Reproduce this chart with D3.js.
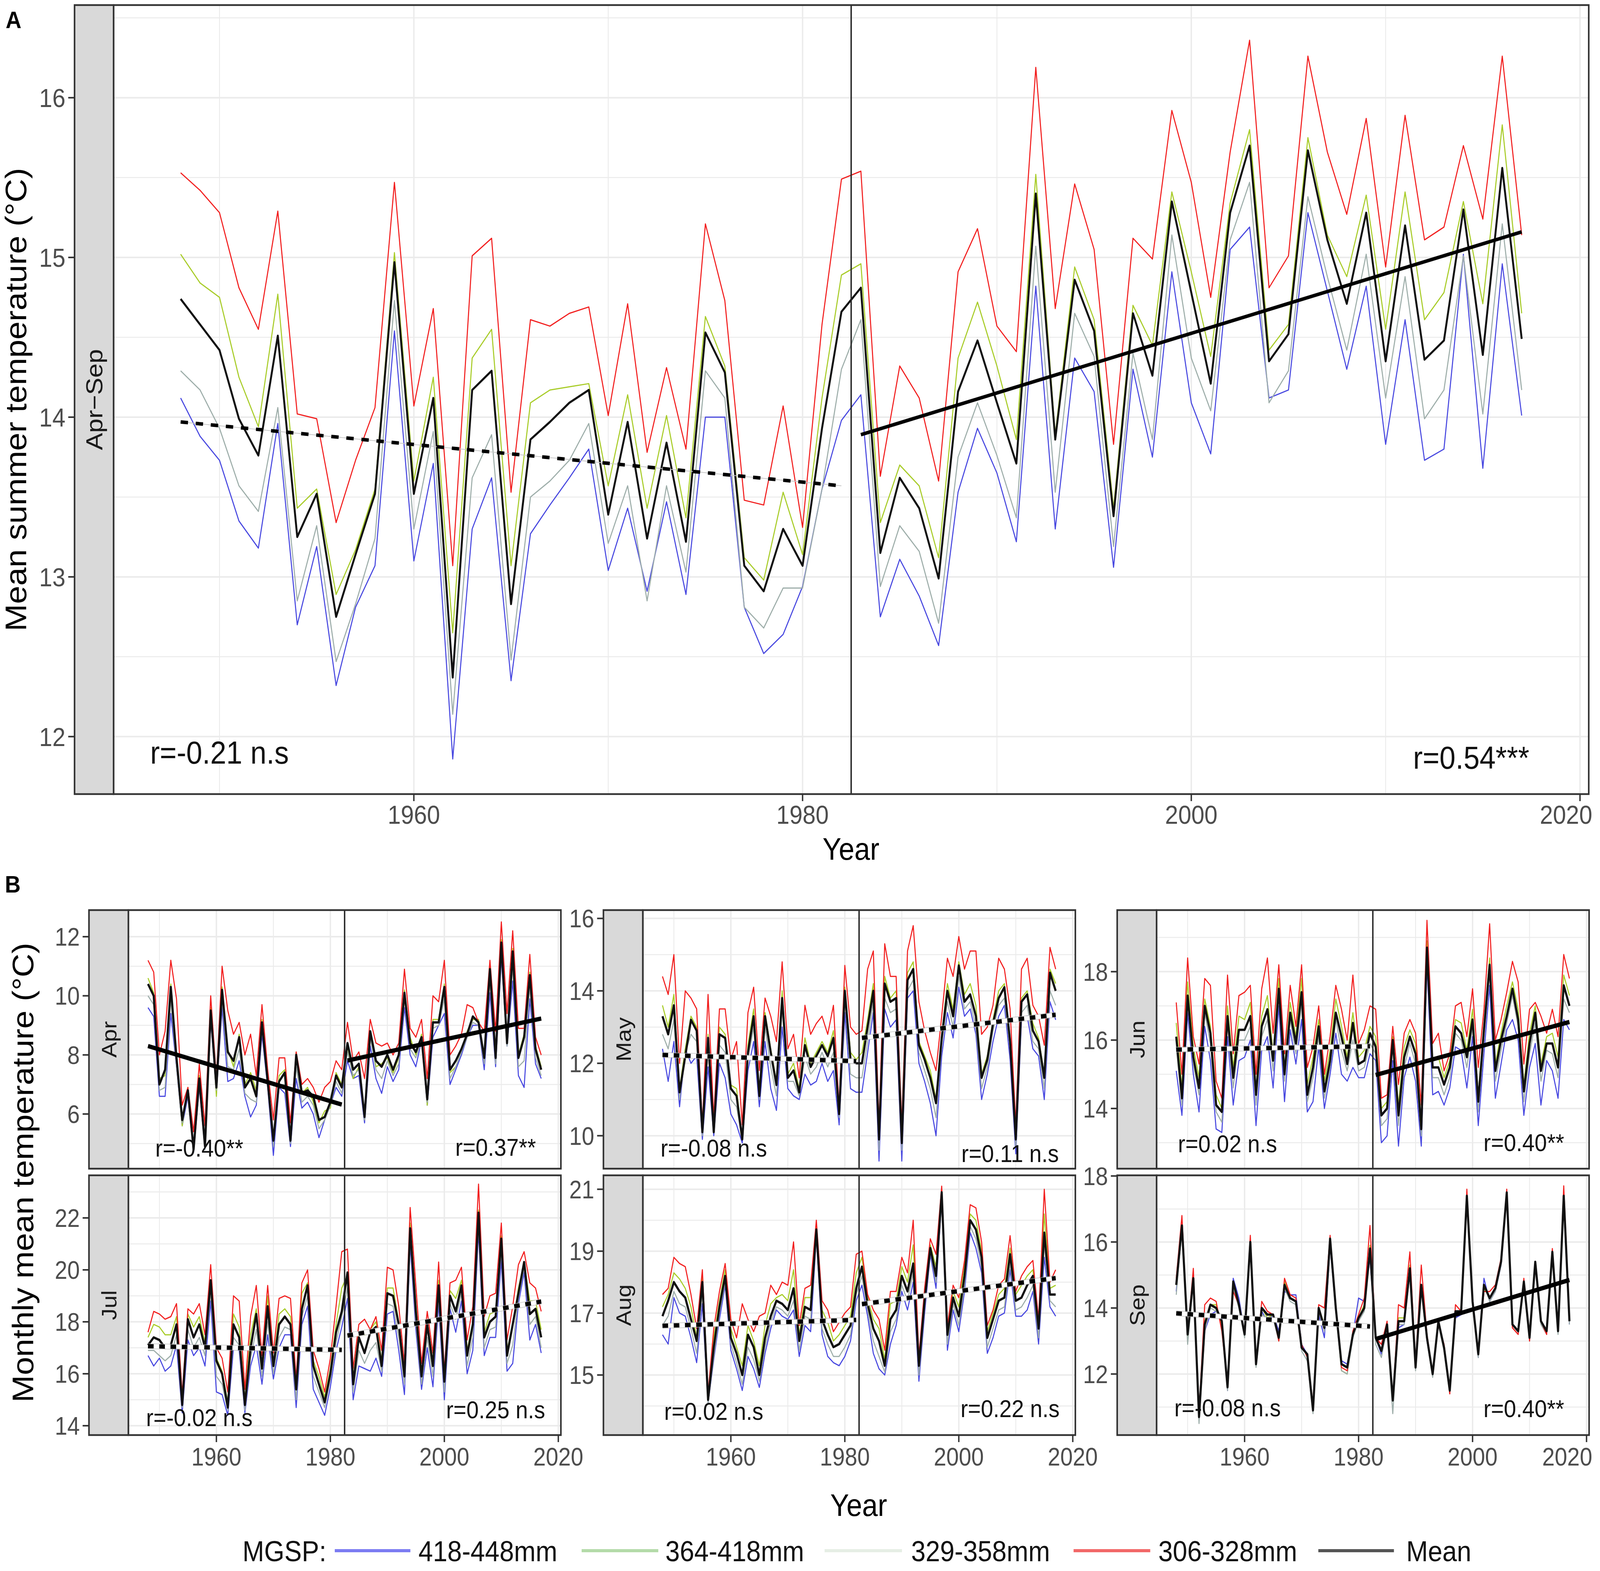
<!DOCTYPE html>
<html><head><meta charset="utf-8">
<script src="https://cdn.jsdelivr.net/npm/d3@7/dist/d3.min.js"></script>
<style>html,body{margin:0;padding:0;background:#fff;overflow:hidden;width:100%;height:100%}
#chart{display:block;width:100vw;height:100vh}</style>
</head><body>
<svg id="chart" viewBox="0 0 4550 4022" preserveAspectRatio="none" xmlns="http://www.w3.org/2000/svg"></svg>
<script>
// ---------------- DATA ----------------
const years = d3.range(1948, 2018);
const breakYear = 1982.5;
const periodPre = [1948, 1982];
const periodPost = [1983, 2017];
const seriesNames = ["418-448mm", "364-418mm", "329-358mm", "306-328mm", "Mean"];
const legendTitle = "MGSP:";
const xTicks = [1960, 1980, 2000, 2020];
const xMinor = [1950, 1970, 1990, 2010];

// Panel A: Apr-Sep mean summer temperature
const aBlue = [14.12,13.88,13.73,13.35,13.18,13.96,12.70,13.19,12.32,12.81,13.07,14.54,13.10,13.71,11.86,13.30,13.62,12.35,13.27,13.45,13.62,13.80,13.04,13.43,12.91,13.47,12.89,14.00,14.00,12.81,12.52,12.64,12.94,13.55,13.98,
 14.14,12.75,13.11,12.88,12.57,13.53,13.93,13.65,13.22,14.82,13.30,14.37,14.16,13.06,14.30,13.75,14.91,14.09,13.77,15.05,15.19,14.12,14.17,15.28,14.79,14.30,14.82,13.83,14.61,13.73,13.80,15.02,13.68,14.96,14.01];
const aGreen = [15.02,14.84,14.75,14.25,13.94,14.77,13.43,13.55,12.89,13.17,13.55,15.03,13.60,14.25,12.65,14.37,14.55,13.07,14.09,14.17,14.19,14.21,13.57,14.14,13.43,14.01,13.37,14.63,14.32,13.12,12.98,13.53,13.14,14.12,14.89,
 14.96,13.34,13.70,13.57,13.12,14.37,14.72,14.32,13.86,15.52,13.89,14.94,14.61,13.43,14.70,14.45,15.41,14.91,14.38,15.34,15.80,14.42,14.58,15.75,15.14,14.88,15.39,14.55,15.41,14.61,14.78,15.35,14.71,15.83,14.65];
const aGray = [14.29,14.17,13.93,13.57,13.41,14.06,12.85,13.32,12.47,12.83,13.24,14.73,13.30,13.91,12.14,13.62,13.89,12.48,13.50,13.60,13.73,13.96,13.21,13.57,12.85,13.57,13.03,14.29,14.12,12.81,12.68,12.93,12.93,13.55,14.30,
 14.61,12.94,13.32,13.16,12.71,13.75,14.09,13.76,13.37,15.07,13.53,14.65,14.38,13.19,14.40,13.86,15.14,14.37,14.04,15.11,15.47,14.09,14.29,15.38,14.88,14.42,15.02,14.12,14.88,13.99,14.17,15.01,14.02,15.21,14.17];
const aRed = [15.53,15.42,15.28,14.81,14.55,15.29,14.02,13.99,13.34,13.73,14.06,15.47,14.07,14.68,13.07,15.01,15.12,13.53,14.61,14.57,14.65,14.69,14.01,14.71,13.78,14.31,13.80,15.21,14.73,13.48,13.45,14.07,13.31,14.58,15.49,
 15.54,13.63,14.32,14.12,13.60,14.91,15.18,14.57,14.41,16.19,14.68,15.46,15.05,13.83,15.12,14.99,15.92,15.47,14.75,15.66,16.36,14.81,15.01,16.26,15.66,15.27,15.87,14.94,15.89,15.11,15.19,15.70,15.24,16.26,15.14];
const aMean = [14.74,14.58,14.42,13.99,13.76,14.51,13.25,13.52,12.75,13.14,13.52,14.97,13.52,14.12,12.37,14.17,14.29,12.83,13.86,13.97,14.09,14.17,13.39,13.97,13.24,13.84,13.22,14.53,14.28,13.07,12.91,13.30,13.07,13.93,14.66,
 14.81,13.15,13.62,13.43,12.99,14.16,14.48,14.09,13.71,15.40,13.86,14.86,14.54,13.38,14.65,14.26,15.35,14.78,14.21,15.28,15.70,14.35,14.52,15.67,15.11,14.71,15.28,14.35,15.20,14.36,14.48,15.30,14.39,15.56,14.49];
const aDomain = [11.64, 16.58];
const aTicks = [12, 13, 14, 15, 16];
const aMinor = [12.5, 13.5, 14.5, 15.5, 16.5];
const aTrend = [[13.97, 13.57], [13.89, 15.16]];
const aTrendType = ["dashed", "solid"];
const aLabels = ["r=-0.21 n.s", "r=0.54***"];
const aStrip = "Apr\u2212Sep";

// Panel B: monthly
const months = ["Apr", "May", "Jun", "Jul", "Aug", "Sep"];
const aprBlue = [9.6,9.3,6.6,6.6,9.4,7.6,5.6,6.6,4.7,6.9,4.8,9.2,6.7,9.6,7.1,7.2,7.8,6.6,5.9,6.3,8.7,6.9,4.6,6.9,6.7,4.9,7.2,6.2,6.4,6.0,5.2,5.8,6.3,6.9,6.6,
 7.8,7.2,7.3,5.7,8.3,7.2,6.7,7.6,7.1,7.5,9.6,8.0,7.6,8.5,6.3,8.6,9.0,9.4,7.0,7.5,8.0,8.6,9.0,9.0,7.5,10.1,7.6,11.3,8.3,10.5,7.3,6.9,9.9,7.7,7.2];
const aprGreen = [10.6,10.1,7.2,7.3,10.4,7.7,5.6,6.9,4.9,7.3,5.0,9.6,6.6,10.3,8.2,7.6,8.7,7.0,7.4,6.8,9.2,7.2,5.2,7.3,7.5,5.2,8.1,6.7,6.9,6.4,5.7,6.1,6.2,7.4,7.0,
 8.3,7.2,7.6,5.8,8.8,7.6,7.7,7.9,7.4,7.9,10.2,8.6,8.0,8.7,6.3,9.2,9.2,10.4,7.4,7.6,8.1,8.8,9.2,9.2,7.8,11.0,7.8,11.9,8.4,11.6,8.0,8.7,10.8,8.3,7.6];
const aprGray = [10.0,9.7,6.8,6.9,9.9,7.6,5.7,6.7,4.7,7.0,4.8,9.3,6.8,9.9,7.6,7.5,8.2,6.7,6.5,6.4,8.9,7.0,4.9,7.0,7.0,5.0,7.6,6.4,6.6,6.3,5.5,5.8,6.3,7.1,6.7,
 8.1,7.3,7.5,5.8,8.6,7.5,7.2,7.8,7.3,7.7,9.9,8.2,7.9,8.5,6.4,8.9,9.0,9.9,7.2,7.6,8.1,8.6,9.1,9.0,7.7,10.5,7.7,11.5,8.3,11.0,7.6,7.8,10.3,7.9,7.3];
const aprRed = [11.2,10.8,8.0,8.8,11.2,9.9,6.3,6.9,5.4,7.7,5.6,10.0,7.2,11.0,9.5,8.7,9.1,8.0,8.7,7.3,9.7,7.5,5.8,7.9,7.9,5.7,8.1,7.0,7.2,6.9,6.4,6.9,7.1,7.8,7.5,
 9.1,7.8,8.1,7.2,9.2,8.4,8.3,8.4,8.0,8.4,10.9,8.9,8.6,9.2,7.2,10.0,9.8,11.2,8.0,8.3,8.7,9.7,9.6,9.1,8.8,11.2,8.8,12.5,9.4,12.2,8.9,8.9,11.4,8.6,8.0];
const aprMean = [10.4,10.0,7.0,7.5,10.3,7.9,5.8,6.8,4.8,7.2,4.9,9.5,6.9,10.2,8.1,7.8,8.6,6.9,7.2,6.6,9.1,7.1,5.1,7.1,7.4,5.1,8.0,6.7,6.8,6.6,5.8,5.9,6.4,7.3,6.9,
 8.4,7.5,7.7,5.9,8.8,7.8,7.6,8.0,7.5,8.0,10.1,8.4,8.1,8.6,6.5,9.1,9.1,10.3,7.5,7.8,8.2,8.7,9.3,9.1,7.9,10.9,7.9,11.8,8.4,11.5,7.9,8.6,10.7,8.2,7.5];

const mayBlue = [12.4,11.5,12.6,10.8,12.4,12.0,12.2,9.9,11.9,10.0,12.0,11.6,10.6,10.3,9.8,11.8,12.6,10.8,12.6,11.3,10.7,13.0,11.3,11.1,11.0,11.7,11.4,11.5,12.0,11.5,11.8,10.3,13.4,11.3,11.2,
 11.2,12.3,13.4,9.3,13.5,13.0,13.2,9.3,13.8,14.0,12.0,11.5,10.9,10.0,12.2,13.4,12.7,14.1,13.3,13.5,12.8,11.0,11.7,12.6,13.3,13.6,12.1,9.5,13.2,13.3,12.4,12.2,11.0,13.7,13.2];
const mayGreen = [13.6,13.0,13.9,11.3,12.4,13.3,13.0,10.1,12.8,10.2,13.0,12.8,11.4,11.3,9.9,12.5,13.5,11.2,13.4,12.4,11.5,14.0,11.7,12.0,11.3,12.7,12.0,12.3,12.6,12.3,12.9,10.7,14.1,12.3,12.1,
 12.3,13.2,14.2,9.9,14.4,13.8,14.0,9.9,14.5,14.8,12.6,12.2,11.8,11.0,12.8,14.2,13.5,14.8,13.9,14.2,13.6,11.7,12.2,13.2,14.0,14.2,12.7,9.9,13.8,14.0,13.1,12.7,11.7,14.6,14.2];
const mayGray = [12.8,12.4,13.2,11.0,12.3,12.8,12.6,10.0,12.4,10.1,12.5,12.3,11.0,10.8,9.9,12.1,13.0,11.0,13.0,11.9,11.1,13.5,11.5,11.5,11.1,12.2,11.7,11.9,12.3,11.9,12.3,10.5,13.8,11.7,11.6,
 11.6,12.6,13.7,9.6,13.8,13.4,13.5,9.6,14.0,14.3,12.3,11.8,11.3,10.5,12.5,13.7,13.0,14.4,13.5,13.7,13.0,11.3,11.9,12.9,13.6,13.8,12.4,9.7,13.4,13.6,12.6,12.4,11.3,14.0,13.6];
const mayRed = [14.4,13.9,15.0,12.0,14.0,13.8,13.5,10.3,13.9,10.5,13.5,13.5,12.1,12.6,10.3,13.4,14.1,11.8,13.8,13.3,12.6,14.8,12.4,12.8,11.6,13.6,12.8,13.1,13.3,12.8,13.6,10.8,14.7,13.0,12.8,
 12.9,14.6,15.1,10.3,15.3,14.4,14.4,10.3,15.1,15.8,13.7,12.9,12.3,11.8,13.3,14.9,14.4,15.5,14.6,15.1,15.1,12.8,13.0,13.6,14.9,14.6,13.5,10.3,14.6,14.9,13.6,13.3,12.5,15.2,14.6];
const mayMean = [13.3,12.8,13.6,11.2,12.2,13.2,12.9,10.1,12.7,10.1,12.8,12.7,11.3,11.1,9.9,12.3,13.3,11.1,13.3,12.3,11.4,13.8,11.6,11.8,11.2,12.5,11.9,12.2,12.5,12.2,12.7,10.6,14.0,12.1,12.0,
 12.0,13.0,14.0,9.9,14.2,13.7,13.8,9.8,14.3,14.6,12.5,12.1,11.6,10.9,12.7,14.0,13.3,14.7,13.7,13.9,13.3,11.6,12.1,13.1,13.8,14.1,12.6,9.9,13.7,13.9,12.9,12.6,11.6,14.5,14.0];

const junBlue = [15.1,13.8,16.8,15.0,13.9,16.4,15.4,13.4,13.3,16.1,14.1,15.4,15.5,16.0,13.5,15.7,16.1,14.6,17.0,14.2,16.3,15.3,16.6,13.9,14.2,15.8,14.0,15.0,16.2,15.0,14.8,15.2,14.9,14.9,15.6,
 15.4,13.0,13.2,15.4,12.9,14.9,15.5,14.8,12.9,18.2,14.4,14.5,14.1,14.6,15.8,15.7,14.6,16.1,13.5,15.6,17.6,14.3,15.3,16.3,16.6,16.0,13.8,15.2,15.9,14.1,15.4,15.1,14.3,16.6,16.3];
const junGreen = [16.5,14.6,17.7,15.8,14.9,17.2,16.4,14.4,14.0,17.0,15.2,16.7,16.6,17.1,14.6,16.7,17.3,15.6,17.8,15.2,17.1,16.1,17.8,14.7,15.5,16.6,14.8,15.7,17.2,16.4,15.5,16.8,15.5,15.7,16.4,
 16.1,14.0,14.2,16.1,14.1,15.8,16.3,15.9,13.6,18.9,15.4,15.5,14.9,15.4,16.6,16.5,15.7,16.9,14.4,16.5,18.4,15.3,16.2,17.0,17.7,16.9,14.7,16.2,17.0,15.3,16.1,16.2,15.5,17.9,17.3];
const junGray = [15.8,14.1,17.1,15.3,14.4,16.8,15.9,13.9,13.6,16.5,14.6,16.0,16.0,16.4,14.1,16.1,16.6,15.1,17.3,14.8,16.6,15.6,17.1,14.2,14.9,16.1,14.3,15.2,16.6,15.7,15.1,16.0,15.1,15.2,15.9,
 15.6,13.5,13.7,15.8,13.5,15.2,15.9,15.3,13.2,18.5,14.9,14.9,14.4,14.9,16.2,16.0,15.2,16.4,13.9,16.1,18.0,14.8,15.7,16.5,17.3,16.4,14.2,15.6,16.5,14.8,15.7,15.6,14.9,17.2,16.8];
const junRed = [17.1,15.0,18.4,16.1,15.3,17.8,17.6,14.8,14.3,17.9,15.6,17.3,17.4,17.6,15.0,17.5,18.4,16.2,18.2,15.6,17.6,16.4,18.2,15.2,15.8,17.0,15.0,16.1,17.6,16.9,16.0,17.9,15.9,16.3,17.0,
 16.9,14.3,14.4,16.4,14.7,16.2,16.6,16.2,14.1,19.5,15.9,16.2,15.1,15.6,17.0,17.1,16.1,17.5,15.2,16.9,19.4,16.0,16.6,17.4,18.3,17.7,15.3,16.9,17.1,16.7,16.2,16.9,16.1,18.5,17.8];
const junMean = [16.1,14.3,17.3,15.5,14.6,17.0,16.2,14.1,13.9,16.7,14.9,16.3,16.3,16.7,14.4,16.4,16.9,15.4,17.5,15.0,16.8,15.9,17.4,14.4,15.2,16.4,14.5,15.4,16.8,16.1,15.3,16.5,15.3,15.4,16.2,
 15.8,13.8,14.0,16.0,13.8,15.5,16.1,15.6,13.4,18.7,15.2,15.2,14.7,15.2,16.4,16.2,15.5,16.6,14.2,16.3,18.2,15.1,16.0,16.7,17.5,16.6,14.5,15.9,16.8,15.1,15.9,15.9,15.2,17.6,17.0];

const julBlue = [16.7,16.3,16.6,16.1,16.3,17.1,14.5,17.3,16.7,17.0,16.3,18.8,15.3,15.2,14.4,17.0,16.9,14.5,16.3,17.1,15.6,17.5,15.8,17.0,17.5,17.5,14.7,17.9,18.6,15.4,14.9,14.4,15.5,16.9,17.8,
 18.9,15.0,16.3,16.2,16.1,16.6,15.9,18.3,18.4,16.9,15.2,21.0,17.7,15.4,17.0,15.5,18.7,15.0,18.5,17.6,18.8,16.0,16.9,21.5,16.7,17.4,17.4,20.4,16.1,16.4,18.7,19.9,17.3,17.9,16.8];
const julGreen = [17.4,17.9,17.8,17.5,17.5,18.2,14.9,18.3,17.8,18.2,17.2,19.6,16.6,16.1,14.9,18.3,17.8,15.0,17.5,18.5,16.4,19.0,16.4,18.3,18.5,18.2,15.5,19.1,19.5,16.5,15.9,15.1,16.2,17.9,19.3,
 19.8,15.8,17.6,17.5,17.7,18.0,16.5,19.3,19.3,18.0,16.1,21.8,18.7,16.0,18.0,16.5,19.6,15.8,19.2,18.9,19.6,16.9,18.0,22.3,17.6,18.3,18.4,21.3,16.9,17.9,19.3,20.3,18.8,18.8,17.7];
const julGray = [16.9,16.9,16.7,16.5,16.7,17.5,14.7,17.7,17.0,17.4,16.7,19.2,15.9,15.6,14.6,17.4,17.1,14.6,16.6,17.7,15.9,18.0,16.0,17.4,17.8,17.7,15.0,18.2,19.0,15.9,15.3,14.7,15.8,17.2,18.2,
 19.3,15.3,16.9,16.4,16.9,17.2,16.1,18.7,18.6,17.4,15.6,21.3,18.0,15.6,17.4,15.9,19.0,15.3,18.7,18.1,19.1,16.3,17.4,21.8,17.0,17.7,17.8,20.8,16.4,17.1,18.9,20.1,17.9,18.2,17.0];
const julRed = [17.6,18.4,18.3,18.1,18.2,18.7,15.2,18.5,18.3,18.7,17.5,20.2,17.0,16.6,15.3,19.0,18.8,15.4,18.2,19.4,16.7,19.4,16.8,18.9,19.0,18.9,15.8,19.5,20.0,16.9,16.2,15.3,16.6,18.6,20.7,
 20.8,16.2,17.9,18.1,17.7,18.2,16.9,20.1,20.0,18.6,16.4,22.4,19.4,16.4,18.4,16.8,20.3,16.1,19.5,19.6,20.1,17.3,18.6,23.3,18.2,19.0,19.1,21.8,17.3,18.6,20.2,20.7,19.5,19.3,18.4];
const julMean = [17.1,17.4,17.3,17.0,17.1,17.9,14.8,18.1,17.4,17.9,17.0,19.6,16.5,16.0,14.7,17.9,17.4,14.8,17.0,18.3,16.2,18.6,16.3,17.9,18.2,17.9,15.4,18.5,19.4,16.3,15.6,14.9,16.0,17.6,18.4,
 19.9,15.6,17.4,16.8,17.6,17.8,16.3,19.1,19.0,17.9,15.9,21.6,18.4,15.9,17.9,16.3,19.4,15.7,19.0,18.4,19.4,16.7,17.9,22.2,17.4,18.0,18.2,21.2,16.7,17.9,19.1,20.3,18.3,18.5,17.4];

const augBlue = [16.3,16.0,17.5,17.0,16.9,16.2,15.4,17.3,14.1,15.5,16.8,17.9,15.8,15.2,14.5,15.6,15.2,14.6,15.7,16.5,17.1,16.9,16.8,17.1,15.6,16.6,16.4,19.5,16.3,15.6,15.4,15.3,15.6,16.1,17.4,
 17.9,16.9,15.7,15.2,15.0,16.0,16.6,17.7,17.1,18.0,14.8,17.0,18.9,17.8,20.7,15.8,17.1,16.4,17.7,19.6,19.1,18.3,15.7,16.2,16.9,17.0,18.4,16.9,16.9,17.1,17.7,16.0,18.8,17.2,16.9];
const augGreen = [17.2,17.6,18.3,18.1,17.8,17.2,16.2,18.2,14.3,16.2,17.4,18.4,16.5,15.9,15.3,16.6,16.1,15.3,16.6,17.3,17.5,17.6,17.4,18.4,16.3,17.5,17.5,19.8,17.1,16.7,16.1,16.3,16.6,16.9,18.3,
 18.8,17.5,16.8,16.5,15.5,17.3,17.4,18.5,18.0,19.2,15.4,17.6,19.2,18.5,21.0,16.4,17.7,17.2,18.5,20.2,20.0,19.0,16.4,17.0,17.6,17.8,19.1,17.6,17.9,18.2,18.4,16.6,20.2,17.8,17.9];
const augGray = [16.6,16.9,17.7,17.3,17.2,16.5,15.7,17.7,14.1,15.6,17.0,18.0,16.0,15.4,14.7,15.9,15.5,14.8,15.9,16.7,17.2,17.1,16.9,17.4,15.8,16.9,16.8,19.6,16.5,16.0,15.6,15.6,15.9,16.3,17.6,
 18.2,17.1,16.1,15.6,15.1,16.4,16.8,17.9,17.4,18.3,15.0,17.2,19.0,18.0,20.8,16.0,17.3,16.6,17.9,19.8,19.4,18.5,15.9,16.5,17.1,17.2,18.6,17.1,17.2,17.5,17.9,16.2,19.2,17.4,17.2];
const augRed = [17.6,17.8,18.8,18.6,18.5,17.6,16.5,18.4,14.4,16.5,17.7,18.6,16.8,16.2,17.3,16.8,16.4,16.9,17.0,17.9,17.6,18.0,17.9,19.3,16.6,17.8,17.9,20.0,17.4,17.1,16.4,16.7,17.0,17.2,18.9,
 19.0,17.6,17.1,16.8,15.8,17.7,17.7,18.8,18.3,20.0,15.6,17.8,19.4,18.9,21.1,16.6,17.9,17.5,18.7,20.5,20.4,19.3,16.6,17.1,17.9,18.1,19.5,17.7,18.2,18.5,18.7,16.8,21.0,18.0,18.4];
const augMean = [16.9,17.4,18.0,17.7,17.5,16.8,16.1,18.0,14.2,15.9,17.2,18.2,16.2,15.7,15.0,16.3,15.9,15.0,16.2,16.9,17.4,17.3,17.1,17.8,16.1,17.2,17.1,19.7,16.8,16.3,15.9,16.0,16.3,16.6,17.8,
 18.5,17.3,16.5,16.1,15.3,16.8,17.1,18.2,17.7,18.6,15.3,17.4,19.1,18.2,20.9,16.3,17.5,16.9,18.2,20.0,19.7,18.8,16.2,16.8,17.4,17.5,18.9,17.4,17.5,17.9,18.2,16.5,19.6,17.6,17.6];

const sepBlue = [14.5,16.4,13.1,14.9,10.6,13.3,13.8,13.9,13.7,11.5,14.9,14.3,13.2,15.9,12.3,13.9,13.6,13.8,13.3,14.5,14.4,14.4,12.9,12.6,10.9,13.8,13.1,15.9,13.9,12.4,12.3,13.2,14.3,14.2,15.5,
 13.1,12.6,13.4,11.2,13.4,13.5,15.1,12.2,14.6,13.0,12.0,13.6,12.8,11.5,13.7,13.8,17.3,14.2,12.5,14.9,14.2,14.5,15.3,17.4,13.5,13.3,14.7,13.1,15.3,13.6,13.3,15.6,13.3,17.2,13.5];
const sepGreen = [14.7,16.5,13.1,15.0,10.7,13.6,14.1,14.1,13.5,11.6,14.7,14.1,13.2,16.0,12.3,14.0,13.7,13.8,13.0,14.8,14.3,14.2,12.8,12.6,10.9,14.0,13.5,16.0,14.0,12.1,12.0,13.2,13.7,14.1,15.9,
 13.1,12.7,13.5,11.2,13.7,13.7,15.3,12.2,14.7,13.1,12.0,13.6,12.8,11.5,13.9,13.9,17.4,14.2,12.6,14.6,14.3,14.6,15.4,17.5,13.5,13.3,14.8,13.1,15.3,13.6,13.3,15.7,13.3,17.4,13.6];
const sepGray = [14.4,16.4,12.9,14.8,10.5,13.3,14.0,13.9,13.6,11.5,14.6,14.0,13.1,15.9,12.2,13.8,13.7,13.7,13.0,14.6,14.2,14.1,12.7,12.4,10.8,13.9,13.3,16.0,13.9,12.1,12.0,13.1,13.6,13.9,15.7,
 12.9,12.5,13.4,10.8,13.5,13.5,15.1,12.1,14.6,13.0,11.9,13.5,12.7,11.4,13.8,13.8,17.3,14.1,12.5,14.7,14.2,14.5,15.3,17.4,13.4,13.2,14.7,13.0,15.3,13.5,13.2,15.6,13.2,17.3,13.5];
const sepRed = [14.9,16.8,13.2,15.2,10.8,14.1,14.3,14.2,13.3,11.7,14.5,14.1,13.2,16.2,12.3,14.2,13.9,13.8,13.0,14.9,14.4,14.3,12.9,12.5,11.1,14.1,14.0,16.2,14.0,12.2,12.1,13.3,13.8,14.3,16.5,
 13.1,12.9,13.6,11.2,14.1,14.0,15.7,12.3,15.3,13.2,12.0,13.5,12.9,11.4,14.1,13.9,17.6,14.2,12.6,14.5,14.5,14.7,15.5,17.6,13.4,13.2,14.9,13.0,15.4,13.6,13.2,15.8,13.4,17.7,13.7];
const sepMean = [14.7,16.5,13.2,14.9,10.7,13.5,14.1,14.0,13.6,11.6,14.8,14.1,13.2,16.0,12.3,14.0,13.8,13.8,13.1,14.7,14.3,14.2,12.8,12.6,10.9,14.0,13.4,16.1,14.0,12.3,12.2,13.2,13.7,14.0,15.8,
 13.1,12.7,13.5,11.2,13.6,13.6,15.2,12.2,14.7,13.1,12.0,13.6,12.8,11.5,13.9,13.9,17.4,14.2,12.6,14.7,14.3,14.6,15.4,17.5,13.5,13.3,14.8,13.1,15.4,13.6,13.3,15.7,13.3,17.4,13.6];

const monthDomains = [[4.15, 12.9], [9.09, 16.23], [12.24, 19.80], [13.64, 23.64], [13.06, 21.45], [10.15, 18.02]];
const monthTicks = [[6, 8, 10, 12], [10, 12, 14, 16], [14, 16, 18], [14, 16, 18, 20, 22], [15, 17, 19, 21], [12, 14, 16, 18]];
const monthMinor = [[5, 7, 9, 11], [11, 13, 15], [13, 15, 17, 19], [15, 17, 19, 21, 23], [14, 16, 18, 20], [11, 13, 15, 17]];
const monthTrends = [
  [[8.30, 6.32], [7.81, 9.23]],
  [[12.23, 12.06], [12.70, 13.34]],
  [[15.72, 15.82], [14.98, 16.53]],
  [[17.06, 16.92], [17.47, 18.78]],
  [[16.59, 16.78], [17.29, 18.13]],
  [[13.84, 13.44], [13.06, 14.85]]
];
const monthTrendTypes = [["solid", "solid"], ["dashed", "dashed"], ["dashed", "solid"], ["dashed", "dashed"], ["dashed", "dashed"], ["dashed", "solid"]];
const monthLabels = [
  ["r=-0.40**", "r=0.37**"], ["r=-0.08 n.s", "r=0.11 n.s"], ["r=0.02 n.s", "r=0.40**"],
  ["r=-0.02 n.s", "r=0.25 n.s"], ["r=0.02 n.s", "r=0.22 n.s"], ["r=-0.08 n.s", "r=0.40**"]
];
const monthSeries = [
  [aprBlue, aprGreen, aprGray, aprRed, aprMean],
  [mayBlue, mayGreen, mayGray, mayRed, mayMean],
  [junBlue, junGreen, junGray, junRed, junMean],
  [julBlue, julGreen, julGray, julRed, julMean],
  [augBlue, augGreen, augGray, augRed, augMean],
  [sepBlue, sepGreen, sepGray, sepRed, sepMean]
];

// ---------------- STYLE / LAYOUT ----------------
const FONT = "'Liberation Sans', Arial, Helvetica, sans-serif";
const lineColors = ["#4848e0", "#a8cc28", "#9eaeaa", "#f21e1e", "#111111"];
const legendColors = ["#7c7cf2", "#b4dba9", "#e6eee5", "#f26868", "#555555"];
const xDomain = [1944.55, 2020.45];
const PAGE_W = 4550;

const svg = d3.select("#chart").style("font-family", FONT);
svg.append("rect").attr("width", 4550).attr("height", 4022).attr("fill", "#fff");
const defs = svg.append("defs");

function drawPanel(p) {
  const px0 = p.sx + p.stripW;
  const x = d3.scaleLinear().domain(xDomain).range([px0, p.px1]);
  const y = d3.scaleLinear().domain(p.domain).range([p.bottom, p.top]);
  const g = svg.append("g");
  g.append("rect").attr("x", px0).attr("y", p.top).attr("width", p.px1 - px0).attr("height", p.bottom - p.top).attr("fill", "#fff");

  const grid = g.append("g").attr("stroke", "#EBEBEB");
  xMinor.forEach(v => grid.append("line").attr("x1", x(v)).attr("x2", x(v)).attr("y1", p.top).attr("y2", p.bottom).attr("stroke-width", p.s.minor));
  p.minor.forEach(v => grid.append("line").attr("x1", px0).attr("x2", p.px1).attr("y1", y(v)).attr("y2", y(v)).attr("stroke-width", p.s.minor));
  xTicks.forEach(v => grid.append("line").attr("x1", x(v)).attr("x2", x(v)).attr("y1", p.top).attr("y2", p.bottom).attr("stroke-width", p.s.major));
  p.ticks.forEach(v => grid.append("line").attr("x1", px0).attr("x2", p.px1).attr("y1", y(v)).attr("y2", y(v)).attr("stroke-width", p.s.major));

  const cid = "clip" + p.id;
  defs.append("clipPath").attr("id", cid).append("rect")
    .attr("x", px0).attr("y", p.top).attr("width", p.px1 - px0).attr("height", p.bottom - p.top);
  const lg = g.append("g").attr("clip-path", `url(#${cid})`);

  const line = d3.line().x((d, i) => x(years[i])).y(d => y(d));
  p.series.forEach((s, i) => {
    lg.append("path").attr("d", line(s)).attr("fill", "none")
      .attr("stroke", lineColors[i]).attr("stroke-width", i === 4 ? p.s.mean : p.s.thin)
      .attr("stroke-linejoin", "round");
  });

  lg.append("line").attr("x1", x(breakYear)).attr("x2", x(breakYear)).attr("y1", p.top).attr("y2", p.bottom)
    .attr("stroke", "#262626").attr("stroke-width", p.s.vline);

  const periods = [periodPre, periodPost];
  p.trends.forEach((t, k) => {
    const x1 = x(periods[k][0]), x2 = x(periods[k][1]), y1 = y(t[0]), y2 = y(t[1]);
    if (p.trendTypes[k] === "dashed") {
      if (p.halo) {
        lg.append("line").attr("x1", x1).attr("x2", x2).attr("y1", y1).attr("y2", y2)
          .attr("stroke", "#b0b0b0").attr("stroke-width", p.s.trend + 4).attr("stroke-opacity", 0.55);
        lg.append("line").attr("x1", x1).attr("x2", x2).attr("y1", y1).attr("y2", y2)
          .attr("stroke", "#ffffff").attr("stroke-width", p.s.trend);
      } else {
        lg.append("line").attr("x1", x1).attr("x2", x2).attr("y1", y1).attr("y2", y2)
          .attr("stroke", "#c8c8c8").attr("stroke-width", 2);
      }
      lg.append("line").attr("x1", x1).attr("x2", x2).attr("y1", y1).attr("y2", y2)
        .attr("stroke", "#000").attr("stroke-width", p.s.trend).attr("stroke-dasharray", p.s.dash);
    } else {
      lg.append("line").attr("x1", x1).attr("x2", x2).attr("y1", y1).attr("y2", y2)
        .attr("stroke", "#000").attr("stroke-width", p.s.trend);
    }
  });

  // r labels
  p.labels.forEach((txt, k) => {
    g.append("text").attr("x", x(p.labelX[k])).attr("y", p.bottom - p.labelOff[k])
      .attr("text-anchor", "middle").attr("font-size", p.s.rFont).attr("fill", "#111").text(txt);
  });

  g.append("rect").attr("x", px0).attr("y", p.top).attr("width", p.px1 - px0).attr("height", p.bottom - p.top)
    .attr("fill", "none").attr("stroke", "#333").attr("stroke-width", p.s.border);

  // strip
  g.append("rect").attr("x", p.sx).attr("y", p.top).attr("width", p.stripW).attr("height", p.bottom - p.top)
    .attr("fill", "#D9D9D9").attr("stroke", "#333").attr("stroke-width", p.s.border);
  g.append("text").attr("transform", `translate(${p.sx + p.stripW / 2 + p.s.stripFont * 0.36},${(p.top + p.bottom) / 2}) rotate(-90)`)
    .attr("text-anchor", "middle").attr("font-size", p.s.stripFont).attr("fill", "#1A1A1A").text(p.strip);

  // y axis
  const ya = g.append("g");
  p.ticks.forEach(v => {
    ya.append("line").attr("x1", p.sx - 18).attr("x2", p.sx).attr("y1", y(v)).attr("y2", y(v)).attr("stroke", "#333").attr("stroke-width", 4);
    ya.append("text").attr("x", p.sx - 26).attr("y", y(v) + p.s.tickFont * 0.36).attr("text-anchor", "end")
      .attr("font-size", p.s.tickFont).attr("fill", "#4D4D4D").text(v);
  });
  if (p.showX) {
    xTicks.forEach(v => {
      ya.append("line").attr("x1", x(v)).attr("x2", x(v)).attr("y1", p.bottom).attr("y2", p.bottom + 18).attr("stroke", "#333").attr("stroke-width", 4);
      const t = ya.append("text").attr("x", x(v)).attr("y", p.bottom + p.xLabelDy).attr("text-anchor", "middle")
        .attr("font-size", p.s.tickFont).attr("fill", "#4D4D4D").text(v);
      const w = t.node().getComputedTextLength();
      if (x(v) + w / 2 > PAGE_W - 22) t.attr("text-anchor", "end").attr("x", PAGE_W - 22);
    });
  }
}

// Panel A
drawPanel({
  id: "A", sx: 212, stripW: 111, px1: 4518, top: 13, bottom: 2033,
  domain: aDomain, ticks: aTicks, minor: aMinor,
  series: [aBlue, aGreen, aGray, aRed, aMean],
  trends: aTrend, trendTypes: aTrendType, halo: false,
  labels: aLabels, labelX: [1950, 2014.4], labelOff: [78, 65],
  strip: aStrip, showX: true, xLabelDy: 76,
  s: { minor: 2.5, major: 4, thin: 3, mean: 5.5, trend: 9, dash: "21,22", vline: 4, border: 4.5, rFont: 82, stripFont: 66, tickFont: 67 }
});

// Panel B
const colSx = [253, 1716, 3177];
const rowTop = [2330, 3009];
const rowBottom = [2992, 3674];
const labelOffs = [[31, 33], [31, 17], [42, 45], [23, 43], [39, 46], [48, 46]];
months.forEach((m, i) => {
  const c = i % 3, r = Math.floor(i / 3);
  drawPanel({
    id: m, sx: colSx[c], stripW: 112, px1: colSx[c] + 112 + 1230, top: rowTop[r], bottom: rowBottom[r],
    domain: monthDomains[i], ticks: monthTicks[i], minor: monthMinor[i],
    series: monthSeries[i], trends: monthTrends[i], trendTypes: monthTrendTypes[i], halo: true,
    labels: monthLabels[i], labelX: [1957, 2009], labelOff: labelOffs[i],
    strip: m, showX: r === 1, xLabelDy: 78,
    s: { minor: 2.5, major: 4, thin: 3, mean: 6, trend: 11, dash: "16,16", vline: 4, border: 4.5, rFont: 63, stripFont: 60, tickFont: 64 }
  });
});

// Titles
svg.append("text").attr("x", 16).attr("y", 72).attr("font-size", 62).attr("font-weight", "bold").attr("fill", "#000").text("A");
svg.append("text").attr("x", 14).attr("y", 2285).attr("font-size", 62).attr("font-weight", "bold").attr("fill", "#000").text("B");

svg.append("text").attr("transform", `translate(${44 + 84 * 0.36},1023) rotate(-90)`).attr("text-anchor", "middle")
  .attr("font-size", 84).attr("fill", "#000").text("Mean summer temperature (°C)");
svg.append("text").attr("x", 2420).attr("y", 2171 + 84 * 0.36).attr("text-anchor", "middle")
  .attr("font-size", 80).attr("fill", "#000").text("Year");

svg.append("text").attr("transform", `translate(${64 + 84 * 0.36},3002) rotate(-90)`).attr("text-anchor", "middle")
  .attr("font-size", 84).attr("fill", "#000").text("Monthly mean temperature (°C)");
svg.append("text").attr("x", 2442).attr("y", 3852 + 80 * 0.36).attr("text-anchor", "middle")
  .attr("font-size", 80).attr("fill", "#000").text("Year");

// Legend
const legY = 3970;
const legKeys = [[952, 1167], [1654, 1872], [2345, 2565], [3053, 3271], [3749, 3964]];
const legText = [1190, 1892, 2591, 3294, 3999];
const leg = svg.append("g");
leg.append("text").attr("x", 928).attr("y", legY + 74 * 0.36).attr("text-anchor", "end").attr("font-size", 74).attr("fill", "#111").text(legendTitle);
seriesNames.forEach((n, i) => {
  leg.append("line").attr("x1", legKeys[i][0]).attr("x2", legKeys[i][1]).attr("y1", legY).attr("y2", legY)
    .attr("stroke", legendColors[i]).attr("stroke-width", 8);
  leg.append("text").attr("x", legText[i]).attr("y", legY + 74 * 0.36).attr("font-size", 74).attr("fill", "#111").text(n);
});
</script>
</body></html>
